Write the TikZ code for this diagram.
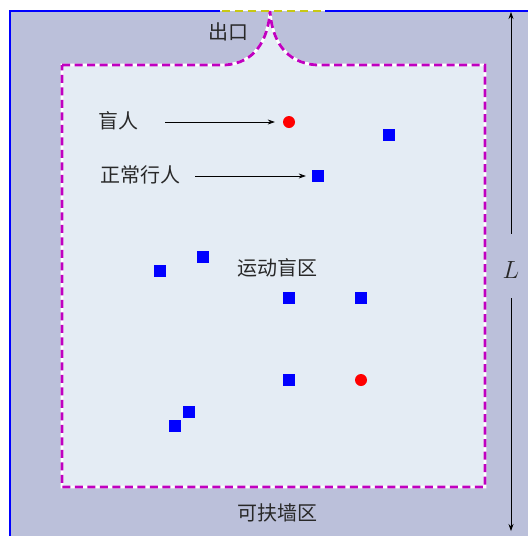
\documentclass[tikz,border=0pt]{standalone}
\usepackage{fontspec}
\newfontfamily\cjk{Noto Sans CJK SC}
\usetikzlibrary{arrows.meta}
\definecolor{wallc}{RGB}{187,192,218}
\definecolor{innerc}{RGB}{228,236,244}
\definecolor{magc}{RGB}{192,0,192}
\definecolor{exitc}{RGB}{200,200,20}
\definecolor{txtc}{RGB}{40,40,40}
\tikzset{
  lab/.style={font=\cjk\fontsize{20}{22}\selectfont, text=txtc, inner sep=1pt},
  blind/.style={circle, fill=red, minimum size=12pt, inner sep=0pt},
  normal/.style={rectangle, fill=blue, minimum size=12pt, inner sep=0pt},
  pointer/.style={-{Stealth[length=7pt,width=5pt]}, line width=0.7pt, black},
  bound/.style={magc, line width=2.8pt, dash pattern=on 8pt off 4.5pt},
  wall/.style={blue, line width=2.5pt},
  exitline/.style={exitc, line width=2.8pt, dash pattern=on 8pt off 5pt},
  dim/.style={{Stealth[length=7pt,width=5pt]}-, line width=0.7pt, black}
}
\begin{document}
\begin{tikzpicture}[x=1pt,y=-1pt]
\useasboundingbox (0,0) rectangle (528,536);
% wall region
\fill[wallc] (10,11) rectangle (528,536);
% inner region
\path[fill=innerc] (62,65) -- (225,65) .. controls (255,63) and (268,40) .. (270,11)
  .. controls (272,40) and (285,63) .. (317,65) -- (485,65) -- (485,487) -- (62,487) -- cycle;
\draw[white, line width=2.8pt] (62,65) -- (225,65) .. controls (255,63) and (268,40) .. (270,11)
  .. controls (272,40) and (285,63) .. (317,65) -- (485,65) -- (485,487) -- (62,487) -- cycle;
\draw[bound] (62,65) -- (225,65) .. controls (255,63) and (268,40) .. (270,11)
  .. controls (272,40) and (285,63) .. (317,65) -- (485,65) -- (485,487) -- (62,487) -- cycle;
% walls and exit
\draw[wall] (220,11) -- (10,11) -- (10,536);
\draw[wall] (325,11) -- (528,11);
\draw[exitline] (222,11) -- (325,11);
% labels
\node[lab] (exit) at (228,32) {出口};
\node[lab] (wallzone) at (277,513) {可扶墙区};
\node[lab] (zone) at (277,268) {运动盲区};
\node[lab] (lblind) at (118,121) {盲人};
\node[lab] (lnormal) at (140,175) {正常行人};
% pedestrians
\node[blind] (b1) at (289,122) {};
\node[blind] (b2) at (361,380) {};
\node[normal] (n1) at (389,135) {};
\node[normal] (n2) at (318,176) {};
\node[normal] (n3) at (160,271) {};
\node[normal] (n4) at (203,257) {};
\node[normal] (n5) at (289,298) {};
\node[normal] (n6) at (361,298) {};
\node[normal] (n7) at (289,380) {};
\node[normal] (n8) at (189,412) {};
\node[normal] (n9) at (175,426) {};
% pointers
\coordinate (s1) at (165,122);
\coordinate (s2) at (195,176);
\draw[pointer] (s1) -- ([xshift=-8pt]b1.west);
\draw[pointer] (s2) -- ([xshift=-6pt]n2.west);
% dimension L
\node[font=\fontsize{25}{27}\selectfont, text=txtc] (L) at (511,270) {$L$};
\coordinate (Ltop) at (511,12);
\coordinate (Lbot) at (511,531);
\coordinate (La) at (511,234);
\coordinate (Lb) at (511,298);
\draw[dim] (Ltop) -- (La);
\draw[dim] (Lbot) -- (Lb);
\end{tikzpicture}
\end{document}
